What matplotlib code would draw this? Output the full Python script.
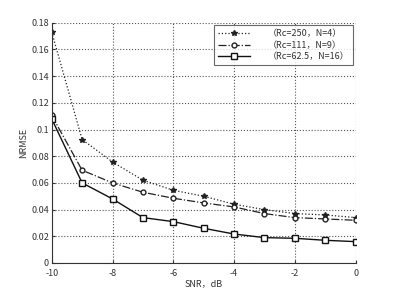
import matplotlib
matplotlib.use('Agg')
import matplotlib.pyplot as plt

plt.rcParams['font.family'] = ['Noto Sans CJK SC', 'DejaVu Sans']

snr = [-10, -9, -8, -7, -6, -5, -4, -3, -2, -1, 0]
nrmse_250 = [0.173, 0.0925, 0.0757, 0.062, 0.0545, 0.050, 0.044, 0.040, 0.037, 0.036, 0.034]
nrmse_111 = [0.1105, 0.0695, 0.060, 0.053, 0.0485, 0.045, 0.042, 0.037, 0.034, 0.033, 0.032]
nrmse_62 = [0.108, 0.060, 0.048, 0.034, 0.031, 0.026, 0.0217, 0.019, 0.0185, 0.017, 0.016]
labels = ['（Rc=250，N=4）', '（Rc=111，N=9）', '（Rc=62.5，N=16）']

fig = plt.figure(figsize=(3.93, 2.95), dpi=100)
ax = fig.add_axes([0.1316, 0.1085, 0.7734, 0.8145])

ax.plot(snr, nrmse_250, color='#222222', linestyle=':', linewidth=0.9,
        marker='*', markersize=4, label=labels[0])
ax.plot(snr, nrmse_111, color='#222222', linestyle='-.', linewidth=0.9,
        marker='o', markersize=3.5, markerfacecolor='white', label=labels[1])
ax.plot(snr, nrmse_62, color='#111111', linestyle='-', linewidth=1.0,
        marker='s', markersize=4, markerfacecolor='white', label=labels[2])

ax.set_xlim(-10, 0)
ax.set_ylim(0, 0.18)
ax.set_xticks([-10, -8, -6, -4, -2, 0])
ax.set_xticklabels(['-10', '-8', '-6', '-4', '-2', '0'])
ax.set_yticks([0, 0.02, 0.04, 0.06, 0.08, 0.1, 0.12, 0.14, 0.16, 0.18])
ax.set_yticklabels(['0', '0.02', '0.04', '0.06', '0.08', '0.1', '0.12', '0.14', '0.16', '0.18'])
ax.tick_params(labelsize=6.5, colors='#333333', length=2, direction='in')
ax.tick_params(axis='y', pad=2)
ax.tick_params(axis='x', pad=4)
ax.grid(True, linestyle=':', color='#555555', linewidth=0.8)
ax.spines['top'].set_visible(False)
ax.spines['right'].set_visible(False)
for s in ['left', 'bottom']:
    ax.spines[s].set_color('#333333')
    ax.spines[s].set_linewidth(0.8)

ax.set_xlabel('SNR，dB', fontsize=6.5, color='#333333', labelpad=1)
ax.set_ylabel('NRMSE', fontsize=6.5, color='#333333', labelpad=2)

leg = ax.legend(loc='upper right', fontsize=6.5, frameon=True, fancybox=False,
                edgecolor='#444444', handlelength=3.5, handletextpad=2.0,
                borderaxespad=0.3, labelspacing=0.3, borderpad=0.4)
leg.get_frame().set_linewidth(0.8)
for t in leg.get_texts():
    t.set_color('#333333')

fig.savefig('out.png', dpi=100)
